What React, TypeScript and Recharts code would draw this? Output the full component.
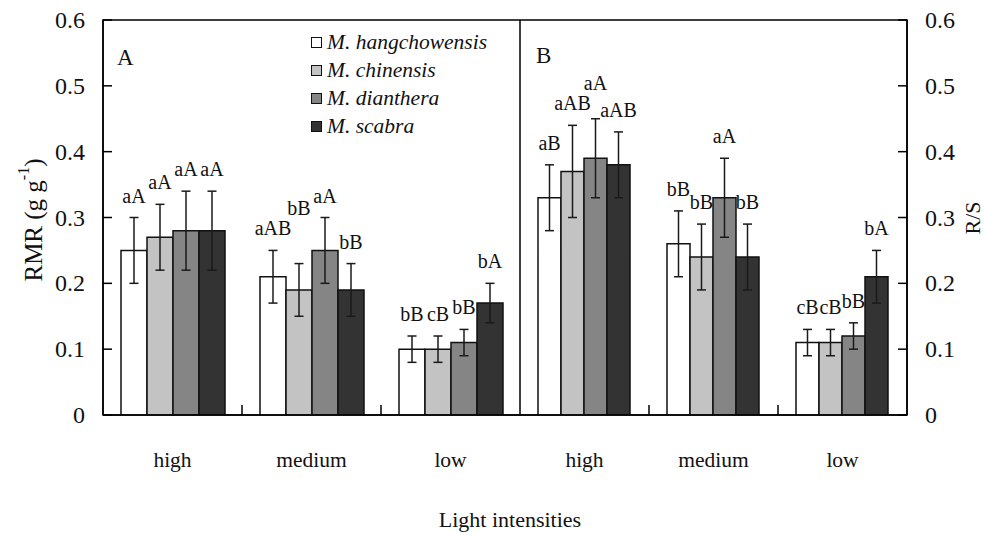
import React from 'react';
import { BarChart, Bar, XAxis, YAxis, ErrorBar, LabelList, ReferenceArea, Legend } from 'recharts';

// ---------- data ----------
const categories = ['high', 'medium', 'low'];
const species = ['M. hangchowensis', 'M. chinensis', 'M. dianthera', 'M. scabra'];
const speciesColors = ['#ffffff', '#c3c3c3', '#858585', '#333333'];
const yTicks = [0, 0.1, 0.2, 0.3, 0.4, 0.5, 0.6];

// Panel A: RMR (g g-1)
const rmrHangchowensis = [0.25, 0.21, 0.10];
const rmrChinensis = [0.27, 0.19, 0.10];
const rmrDianthera = [0.28, 0.25, 0.11];
const rmrScabra = [0.28, 0.19, 0.17];
const rmrErrHangchowensis = [0.05, 0.04, 0.02];
const rmrErrChinensis = [0.05, 0.04, 0.02];
const rmrErrDianthera = [0.06, 0.05, 0.02];
const rmrErrScabra = [0.06, 0.04, 0.03];
const rmrLetHangchowensis = ['aA', 'aAB', 'bB'];
const rmrLetChinensis = ['aA', 'bB', 'cB'];
const rmrLetDianthera = ['aA', 'aA', 'bB'];
const rmrLetScabra = ['aA', 'bB', 'bA'];

// Panel B: R/S
const rsHangchowensis = [0.33, 0.26, 0.11];
const rsChinensis = [0.37, 0.24, 0.11];
const rsDianthera = [0.39, 0.33, 0.12];
const rsScabra = [0.38, 0.24, 0.21];
const rsErrHangchowensis = [0.05, 0.05, 0.02];
const rsErrChinensis = [0.07, 0.05, 0.02];
const rsErrDianthera = [0.06, 0.06, 0.02];
const rsErrScabra = [0.05, 0.05, 0.04];
const rsLetHangchowensis = ['aB', 'bB', 'cB'];
const rsLetChinensis = ['aAB', 'bB', 'cB'];
const rsLetDianthera = ['aA', 'aA', 'bB'];
const rsLetScabra = ['aAB', 'bB', 'bA'];

// ---------- layout ----------
const FONT = '"Liberation Serif", "Times New Roman", serif';
const W = 984;
const H = 533;
const PLOT_TOP = 20;
const PLOT_BOTTOM = 415;
const LEFT_AXIS_X = 103;
const DIVIDER_X = 520;
const RIGHT_AXIS_X = 907;
const PX_PER_UNIT = (PLOT_BOTTOM - PLOT_TOP) / 0.6;
const LETTER_SIZE = 20;

function buildRows(values: number[][], errs: number[][], letters: string[][]) {
  return categories.map((c, i) => {
    const row: any = { cat: c };
    for (let s = 0; s < values.length; s++) {
      row['v' + s] = values[s][i];
      row['e' + s] = errs[s][i];
      row['l' + s] = letters[s][i];
    }
    return row;
  });
}

const dataA = buildRows(
  [rmrHangchowensis, rmrChinensis, rmrDianthera, rmrScabra],
  [rmrErrHangchowensis, rmrErrChinensis, rmrErrDianthera, rmrErrScabra],
  [rmrLetHangchowensis, rmrLetChinensis, rmrLetDianthera, rmrLetScabra]
);
const errsA = [rmrErrHangchowensis, rmrErrChinensis, rmrErrDianthera, rmrErrScabra];

const dataB = buildRows(
  [rsHangchowensis, rsChinensis, rsDianthera, rsScabra],
  [rsErrHangchowensis, rsErrChinensis, rsErrDianthera, rsErrScabra],
  [rsLetHangchowensis, rsLetChinensis, rsLetDianthera, rsLetScabra]
);
const errsB = [rsErrHangchowensis, rsErrChinensis, rsErrDianthera, rsErrScabra];

const fmt = (v: number) => (v === 0 ? '0' : v.toFixed(1));

const LeftTick = (props: any) => {
  const { x, y, payload } = props;
  return (
    <g>
      <line x1={x} x2={x + 9} y1={y} y2={y} stroke="#000" strokeWidth={1.5} />
      <text x={x - 18} y={y + 8} textAnchor="end" fontFamily={FONT} fontSize={24} fill="#111">
        {fmt(payload.value)}
      </text>
    </g>
  );
};

const RightTick = (props: any) => {
  const { x, y, payload } = props;
  return (
    <g>
      <line x1={x} x2={x - 9} y1={y} y2={y} stroke="#000" strokeWidth={1.5} />
      <text x={x + 18} y={y + 8} textAnchor="start" fontFamily={FONT} fontSize={24} fill="#111">
        {fmt(payload.value)}
      </text>
    </g>
  );
};

const makeXTick = (band: number) => (props: any) => {
  const { x, y, payload, index } = props;
  return (
    <g>
      {index > 0 && (
        <line x1={x - band / 2} x2={x - band / 2} y1={y} y2={y - 10} stroke="#000" strokeWidth={1.5} />
      )}
      <text x={x} y={y + 52} textAnchor="middle" fontFamily={FONT} fontSize={21.5} fill="#111">
        {payload.value}
      </text>
    </g>
  );
};

// registry of placed significance letters, so a label that would collide with
// its left neighbour's label is lifted above it
const placed: Record<string, { left: number; right: number; base: number }> = {};

const makeLetter = (panel: string, series: number, errs: number[]) => (props: any) => {
  const vb = props.viewBox || {};
  const x = props.x ?? vb.x;
  const y = props.y ?? vb.y;
  const width = props.width ?? vb.width;
  const index = props.index ?? 0;
  const text = String(props.value ?? '');
  const cx = x + width / 2;
  const half = (text.length * LETTER_SIZE * 0.56) / 2;
  let base = y - errs[index] * PX_PER_UNIT - 15;
  for (let pass = 0; pass < 4; pass++) {
    let moved = false;
    for (let j = 0; j < series; j++) {
      const p = placed[panel + '-' + index + '-' + j];
      if (!p) continue;
      const hOverlap = cx - half < p.right - 1 && cx + half > p.left + 1;
      const vOverlap = Math.abs(base - p.base) < LETTER_SIZE - 2;
      if (hOverlap && vOverlap) {
        base = p.base - LETTER_SIZE;
        moved = true;
      }
    }
    if (!moved) break;
  }
  placed[panel + '-' + index + '-' + series] = { left: cx - half, right: cx + half, base };
  return (
    <text x={cx} y={base} textAnchor="middle" fontFamily={FONT} fontSize={LETTER_SIZE} fill="#111">
      {text}
    </text>
  );
};

const LegendContent = () => (
  <div style={{ fontFamily: FONT, fontStyle: 'italic', fontSize: 21.5, color: '#111', lineHeight: '28px' }}>
    {species.map((s, i) => (
      <div key={s} style={{ display: 'flex', alignItems: 'center', height: 28, whiteSpace: 'nowrap' }}>
        <span
          style={{
            display: 'inline-block',
            width: 9,
            height: 9,
            border: '1.5px solid #111',
            background: speciesColors[i],
            marginRight: 5,
          }}
        />
        <span>{s}</span>
      </div>
    ))}
  </div>
);

function renderBars(panel: string, errs: number[][]) {
  return species.map((s, i) => (
    <Bar
      key={s}
      dataKey={'v' + i}
      name={s}
      fill={speciesColors[i]}
      stroke="#111"
      strokeWidth={1.5}
      isAnimationActive={false}
    >
      <ErrorBar dataKey={'e' + i} width={4.5} stroke="#1a1a1a" strokeWidth={1.5} direction="y" />
      <LabelList dataKey={'l' + i} content={makeLetter(panel, i, errs[i])} />
    </Bar>
  ));
}

export default function App() {
  const widthA = DIVIDER_X;
  const widthB = W - DIVIDER_X;
  const bandA = (DIVIDER_X - LEFT_AXIS_X) / categories.length;
  const bandB = (RIGHT_AXIS_X - DIVIDER_X) / categories.length;
  const xAxisHeight = H - PLOT_BOTTOM;
  return (
    <div style={{ position: 'absolute', left: 0, top: 0, width: W, height: H, background: '#fff', fontFamily: FONT }}>
      <div style={{ position: 'absolute', left: 0, top: 0 }}>
        <BarChart
          width={widthA}
          height={H}
          data={dataA}
          margin={{ top: PLOT_TOP, right: 0, bottom: 0, left: 0 }}
          barCategoryGap={18}
          barGap={0}
        >
          <XAxis
            dataKey="cat"
            height={xAxisHeight}
            tickSize={0}
            tickMargin={0}
            tickLine={false}
            axisLine={{ stroke: '#000', strokeWidth: 1.5 }}
            tick={makeXTick(bandA)}
            interval={0}
          />
          <YAxis
            width={LEFT_AXIS_X}
            domain={[0, 0.6]}
            ticks={yTicks}
            tickSize={0}
            tickMargin={0}
            tickLine={false}
            axisLine={{ stroke: '#000', strokeWidth: 1.5 }}
            tick={<LeftTick />}
            allowDataOverflow
          />
          <ReferenceArea y1={0} y2={0.6} fill="none" stroke="#000" strokeWidth={1.5} ifOverflow="visible" />
          {renderBars('A', errsA)}
          <Legend
            layout="vertical"
            align="center"
            verticalAlign="middle"
            content={<LegendContent />}
            wrapperStyle={{ position: 'absolute', left: 311, top: 28, width: 220, height: 115 }}
          />
        </BarChart>
      </div>
      <div style={{ position: 'absolute', left: DIVIDER_X, top: 0 }}>
        <BarChart
          width={widthB}
          height={H}
          data={dataB}
          margin={{ top: PLOT_TOP, right: 0, bottom: 0, left: 0 }}
          barCategoryGap={18}
          barGap={0}
        >
          <XAxis
            dataKey="cat"
            height={xAxisHeight}
            tickSize={0}
            tickMargin={0}
            tickLine={false}
            axisLine={{ stroke: '#000', strokeWidth: 1.5 }}
            tick={makeXTick(bandB)}
            interval={0}
          />
          <YAxis
            orientation="right"
            width={W - RIGHT_AXIS_X}
            domain={[0, 0.6]}
            ticks={yTicks}
            tickSize={0}
            tickMargin={0}
            tickLine={false}
            axisLine={{ stroke: '#000', strokeWidth: 1.5 }}
            tick={<RightTick />}
            allowDataOverflow
          />
          <ReferenceArea y1={0} y2={0.6} fill="none" stroke="#000" strokeWidth={1.5} ifOverflow="visible" />
          {renderBars('B', errsB)}
        </BarChart>
      </div>
      <svg
        width={W}
        height={H}
        style={{ position: 'absolute', left: 0, top: 0, pointerEvents: 'none' }}
      >
        <text x={117} y={65} fontFamily={FONT} fontSize={23} fill="#111">A</text>
        <text x={536} y={63} fontFamily={FONT} fontSize={23} fill="#111">B</text>
        <text
          x={33}
          y={220}
          transform="rotate(-90, 33, 220)"
          textAnchor="middle"
          dominantBaseline="central"
          fontFamily={FONT}
          fontSize={25}
          fill="#111"
        >
          RMR (g g
          <tspan dy={-10} fontSize={16}>-1</tspan>
          <tspan dy={10}>)</tspan>
        </text>
        <text
          x={972}
          y={218}
          transform="rotate(-90, 972, 218)"
          textAnchor="middle"
          dominantBaseline="central"
          fontFamily={FONT}
          fontSize={22}
          fill="#111"
        >
          R/S
        </text>
        <text x={510} y={527} textAnchor="middle" fontFamily={FONT} fontSize={22} fill="#111">
          Light intensities
        </text>
      </svg>
    </div>
  );
}
